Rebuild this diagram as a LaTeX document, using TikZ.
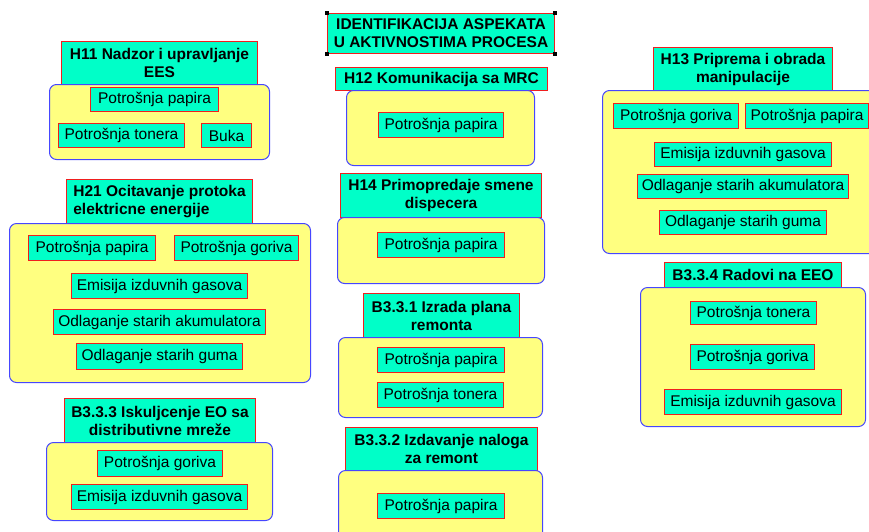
\documentclass[tikz,border=0pt]{standalone}
\usepackage{fontspec}
\setmainfont{Liberation Sans}
\definecolor{aquafill}{RGB}{0,255,200}
\definecolor{paleyellow}{RGB}{255,255,128}
\definecolor{frameblue}{RGB}{70,70,255}
\definecolor{framered}{RGB}{240,30,30}
\begin{document}
\begin{tikzpicture}[x=1pt,y=-1pt,
  wh/.style 2 args={minimum width=#1, minimum height=#2},
  item/.style={draw=framered, fill=aquafill, line width=1pt, inner sep=0pt,
    anchor=north west, font=\fontsize{15.5}{18}\selectfont},
  head/.style={item, font=\bfseries\fontsize{15.5}{18}\selectfont, align=center},
  group/.style={draw=frameblue, fill=paleyellow, rounded corners=7pt,
    line width=1pt, inner sep=0pt, anchor=north west},
  handle/.style={fill=black}]
\useasboundingbox (0,0) rectangle (869,531);

% Title
\node[head, wh={227}{40}] (title) at (327,13) {IDENTIFIKACIJA ASPEKATA\\U AKTIVNOSTIMA PROCESA};
\foreach \c in {north west, north east, south west, south east}
  \fill[handle] (title.\c) +(-2,-2) rectangle +(2,2);

% H11
\node[head, wh={196}{43}] (h11) at (61,41) {H11 Nadzor i upravljanje\\EES};
\node[group, wh={220}{75}] (g11) at (49,84) {};
\node[item, wh={128}{24}] (h11a) at (90,87) {Potrošnja papira};
\node[item, wh={126}{24}] (h11b) at (58,123) {Potrošnja tonera};
\node[item, wh={50}{24}] (h11c) at (201,123) {Buka};

% H12
\node[head, wh={212}{23}] (h12) at (335,67) {H12 Komunikacija sa MRC};
\node[group, wh={188}{75}] (g12) at (346,90) {};
\node[item, wh={125}{25}] (h12a) at (378,112) {Potrošnja papira};

% H13
\node[head, wh={179}{43}] (h13) at (653,47) {H13 Priprema i obrada\\manipulacije};
\node[group, wh={285}{163}] (g13) at (602,90) {};
\node[item, wh={125}{25}] (h13a) at (613,103) {Potrošnja goriva};
\node[item, wh={123}{25}] (h13b) at (745,103) {Potrošnja papira};
\node[item, wh={177}{24}] (h13c) at (654,142) {Emisija izduvnih gasova};
\node[item, wh={211}{24}] (h13d) at (637,174) {Odlaganje starih akumulatora};
\node[item, wh={167}{24}] (h13e) at (659,210) {Odlaganje starih guma};

% H14
\node[head, wh={201}{44}] (h14) at (340,173) {H14 Primopredaje smene\\dispecera};
\node[group, wh={207}{66}] (g14) at (337,217) {};
\node[item, wh={127}{25}] (h14a) at (377,232) {Potrošnja papira};

% H21 (left-aligned heading)
\node[head, wh={186}{44}, align=left] (h21) at (66,179) {H21 Ocitavanje protoka\\elektricne energije};
\node[group, wh={301}{159}] (g21) at (9,223) {};
\node[item, wh={127}{25}] (h21a) at (28,235) {Potrošnja papira};
\node[item, wh={124}{25}] (h21b) at (174,235) {Potrošnja goriva};
\node[item, wh={176}{25}] (h21c) at (71,273) {Emisija izduvnih gasova};
\node[item, wh={212}{25}] (h21d) at (53,309) {Odlaganje starih akumulatora};
\node[item, wh={166}{26}] (h21e) at (76,343) {Odlaganje starih guma};

% B3.3.1
\node[head, wh={156}{44}] (b331) at (363,293) {B3.3.1 Izrada plana\\remonta};
\node[group, wh={204}{80}] (g331) at (338,337) {};
\node[item, wh={127}{25}] (b331a) at (377,347) {Potrošnja papira};
\node[item, wh={126}{25}] (b331b) at (377,382) {Potrošnja tonera};

% B3.3.2
\node[head, wh={192}{43}] (b332) at (345,427) {B3.3.2 Izdavanje naloga\\za remont};
\node[group, wh={204}{80}] (g332) at (338,470) {};
\node[item, wh={127}{25}] (b332a) at (377,493) {Potrošnja papira};

% B3.3.3
\node[head, wh={191}{44}] (b333) at (64,398) {B3.3.3 Iskuljcenje EO sa\\distributivne mreže};
\node[group, wh={226}{78}] (g333) at (46,442) {};
\node[item, wh={125}{26}] (b333a) at (97,450) {Potrošnja goriva};
\node[item, wh={176}{25}] (b333b) at (71,484) {Emisija izduvnih gasova};

% B3.3.4
\node[head, wh={177}{25}] (b334) at (664,262) {B3.3.4 Radovi na EEO};
\node[group, wh={225}{139}] (g334) at (640,287) {};
\node[item, wh={126}{23}] (b334a) at (690,301) {Potrošnja tonera};
\node[item, wh={124}{25}] (b334b) at (690,344) {Potrošnja goriva};
\node[item, wh={177}{25}] (b334c) at (664,389) {Emisija izduvnih gasova};
\end{tikzpicture}
\end{document}
